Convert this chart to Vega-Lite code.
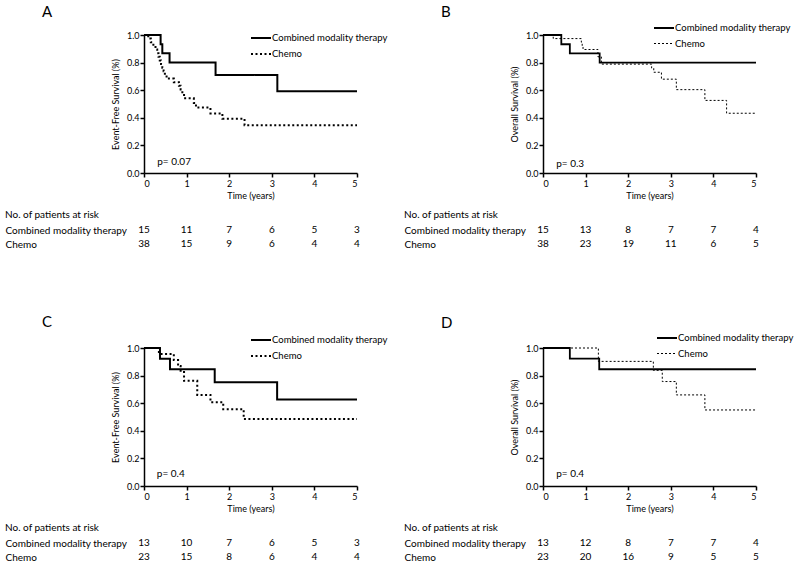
{
  "$schema": "https://vega.github.io/schema/vega-lite/v6.json",
  "padding": {"left": 5, "top": 5, "right": 5, "bottom": 5},
  "background": "white",
  "config": {
    "font": "Lato",
    "view": {"stroke": null},
    "axis": {"domainColor": "black", "tickColor": "black", "labelColor": "black", "titleColor": "black", "labelFontSize": 9, "titleFontSize": 9, "titleFontWeight": "normal", "grid": false, "tickSize": 4, "domainWidth": 1.5, "tickWidth": 1.5, "labelOverlap": false},
    "axisY": {"labelOverlap": false, "labelSeparation": 0},
    "legend": {"orient": "none", "title": null, "labelFontSize": 9.5, "symbolType": "stroke", "symbolSize": 400, "rowPadding": -12, "labelOffset": 0, "symbolStrokeColor": "black", "labelColor": "black"},
    "title": {"fontWeight": "normal", "color": "black"},
    "text": {"color": "black"}
  },
  "resolve": {"scale": {"strokeDash": "independent", "strokeWidth": "independent"}, "legend": {"strokeDash": "independent", "strokeWidth": "independent"}},
  "datasets": {
    "km": [
      {"panel": "A", "group": "Combined modality therapy", "t": 0, "s": 1},
      {"panel": "A", "group": "Combined modality therapy", "t": 0.39, "s": 0.933},
      {"panel": "A", "group": "Combined modality therapy", "t": 0.43, "s": 0.867},
      {"panel": "A", "group": "Combined modality therapy", "t": 0.6, "s": 0.8},
      {"panel": "A", "group": "Combined modality therapy", "t": 1.68, "s": 0.711},
      {"panel": "A", "group": "Combined modality therapy", "t": 3.13, "s": 0.593},
      {"panel": "A", "group": "Combined modality therapy", "t": 5, "s": 0.593},
      {"panel": "A", "group": "Chemo", "t": 0, "s": 1},
      {"panel": "A", "group": "Chemo", "t": 0.1, "s": 0.974},
      {"panel": "A", "group": "Chemo", "t": 0.16, "s": 0.947},
      {"panel": "A", "group": "Chemo", "t": 0.22, "s": 0.921},
      {"panel": "A", "group": "Chemo", "t": 0.27, "s": 0.895},
      {"panel": "A", "group": "Chemo", "t": 0.31, "s": 0.868},
      {"panel": "A", "group": "Chemo", "t": 0.34, "s": 0.842},
      {"panel": "A", "group": "Chemo", "t": 0.37, "s": 0.816},
      {"panel": "A", "group": "Chemo", "t": 0.4, "s": 0.789},
      {"panel": "A", "group": "Chemo", "t": 0.43, "s": 0.763},
      {"panel": "A", "group": "Chemo", "t": 0.46, "s": 0.737},
      {"panel": "A", "group": "Chemo", "t": 0.49, "s": 0.711},
      {"panel": "A", "group": "Chemo", "t": 0.53, "s": 0.684},
      {"panel": "A", "group": "Chemo", "t": 0.7, "s": 0.658},
      {"panel": "A", "group": "Chemo", "t": 0.82, "s": 0.632},
      {"panel": "A", "group": "Chemo", "t": 0.86, "s": 0.605},
      {"panel": "A", "group": "Chemo", "t": 0.9, "s": 0.573},
      {"panel": "A", "group": "Chemo", "t": 0.94, "s": 0.541},
      {"panel": "A", "group": "Chemo", "t": 1.17, "s": 0.508},
      {"panel": "A", "group": "Chemo", "t": 1.22, "s": 0.474},
      {"panel": "A", "group": "Chemo", "t": 1.56, "s": 0.432},
      {"panel": "A", "group": "Chemo", "t": 1.84, "s": 0.394},
      {"panel": "A", "group": "Chemo", "t": 2.36, "s": 0.346},
      {"panel": "A", "group": "Chemo", "t": 5, "s": 0.346},
      {"panel": "B", "group": "Combined modality therapy", "t": 0, "s": 1},
      {"panel": "B", "group": "Combined modality therapy", "t": 0.43, "s": 0.933},
      {"panel": "B", "group": "Combined modality therapy", "t": 0.63, "s": 0.867},
      {"panel": "B", "group": "Combined modality therapy", "t": 1.33, "s": 0.8},
      {"panel": "B", "group": "Combined modality therapy", "t": 5, "s": 0.8},
      {"panel": "B", "group": "Chemo", "t": 0, "s": 1},
      {"panel": "B", "group": "Chemo", "t": 0.24, "s": 0.974},
      {"panel": "B", "group": "Chemo", "t": 0.9, "s": 0.947},
      {"panel": "B", "group": "Chemo", "t": 0.92, "s": 0.921},
      {"panel": "B", "group": "Chemo", "t": 0.94, "s": 0.895},
      {"panel": "B", "group": "Chemo", "t": 1.29, "s": 0.842},
      {"panel": "B", "group": "Chemo", "t": 1.37, "s": 0.789},
      {"panel": "B", "group": "Chemo", "t": 2.55, "s": 0.76},
      {"panel": "B", "group": "Chemo", "t": 2.6, "s": 0.73},
      {"panel": "B", "group": "Chemo", "t": 2.78, "s": 0.68},
      {"panel": "B", "group": "Chemo", "t": 3.13, "s": 0.604},
      {"panel": "B", "group": "Chemo", "t": 3.8, "s": 0.526},
      {"panel": "B", "group": "Chemo", "t": 4.31, "s": 0.433},
      {"panel": "B", "group": "Chemo", "t": 5, "s": 0.433},
      {"panel": "C", "group": "Combined modality therapy", "t": 0, "s": 1},
      {"panel": "C", "group": "Combined modality therapy", "t": 0.375, "s": 0.923},
      {"panel": "C", "group": "Combined modality therapy", "t": 0.61, "s": 0.846},
      {"panel": "C", "group": "Combined modality therapy", "t": 1.66, "s": 0.752},
      {"panel": "C", "group": "Combined modality therapy", "t": 3.125, "s": 0.627},
      {"panel": "C", "group": "Combined modality therapy", "t": 5, "s": 0.627},
      {"panel": "C", "group": "Chemo", "t": 0, "s": 1},
      {"panel": "C", "group": "Chemo", "t": 0.35, "s": 0.957},
      {"panel": "C", "group": "Chemo", "t": 0.7, "s": 0.913},
      {"panel": "C", "group": "Chemo", "t": 0.8, "s": 0.869},
      {"panel": "C", "group": "Chemo", "t": 0.86, "s": 0.826},
      {"panel": "C", "group": "Chemo", "t": 0.94, "s": 0.762},
      {"panel": "C", "group": "Chemo", "t": 1.25, "s": 0.66},
      {"panel": "C", "group": "Chemo", "t": 1.56, "s": 0.607},
      {"panel": "C", "group": "Chemo", "t": 1.86, "s": 0.556},
      {"panel": "C", "group": "Chemo", "t": 2.34, "s": 0.485},
      {"panel": "C", "group": "Chemo", "t": 5, "s": 0.485},
      {"panel": "D", "group": "Combined modality therapy", "t": 0, "s": 1},
      {"panel": "D", "group": "Combined modality therapy", "t": 0.63, "s": 0.923},
      {"panel": "D", "group": "Combined modality therapy", "t": 1.32, "s": 0.846},
      {"panel": "D", "group": "Combined modality therapy", "t": 5, "s": 0.846},
      {"panel": "D", "group": "Chemo", "t": 0, "s": 1},
      {"panel": "D", "group": "Chemo", "t": 1.3, "s": 0.903},
      {"panel": "D", "group": "Chemo", "t": 2.59, "s": 0.838},
      {"panel": "D", "group": "Chemo", "t": 2.8, "s": 0.757},
      {"panel": "D", "group": "Chemo", "t": 3.13, "s": 0.66},
      {"panel": "D", "group": "Chemo", "t": 3.8, "s": 0.551},
      {"panel": "D", "group": "Chemo", "t": 5, "s": 0.551}
    ],
    "risk": [
      {"panel": "A", "group": "Combined modality therapy", "t": 0, "n": 15},
      {"panel": "A", "group": "Combined modality therapy", "t": 1, "n": 11},
      {"panel": "A", "group": "Combined modality therapy", "t": 2, "n": 7},
      {"panel": "A", "group": "Combined modality therapy", "t": 3, "n": 6},
      {"panel": "A", "group": "Combined modality therapy", "t": 4, "n": 5},
      {"panel": "A", "group": "Combined modality therapy", "t": 5, "n": 3},
      {"panel": "A", "group": "Chemo", "t": 0, "n": 38},
      {"panel": "A", "group": "Chemo", "t": 1, "n": 15},
      {"panel": "A", "group": "Chemo", "t": 2, "n": 9},
      {"panel": "A", "group": "Chemo", "t": 3, "n": 6},
      {"panel": "A", "group": "Chemo", "t": 4, "n": 4},
      {"panel": "A", "group": "Chemo", "t": 5, "n": 4},
      {"panel": "B", "group": "Combined modality therapy", "t": 0, "n": 15},
      {"panel": "B", "group": "Combined modality therapy", "t": 1, "n": 13},
      {"panel": "B", "group": "Combined modality therapy", "t": 2, "n": 8},
      {"panel": "B", "group": "Combined modality therapy", "t": 3, "n": 7},
      {"panel": "B", "group": "Combined modality therapy", "t": 4, "n": 7},
      {"panel": "B", "group": "Combined modality therapy", "t": 5, "n": 4},
      {"panel": "B", "group": "Chemo", "t": 0, "n": 38},
      {"panel": "B", "group": "Chemo", "t": 1, "n": 23},
      {"panel": "B", "group": "Chemo", "t": 2, "n": 19},
      {"panel": "B", "group": "Chemo", "t": 3, "n": 11},
      {"panel": "B", "group": "Chemo", "t": 4, "n": 6},
      {"panel": "B", "group": "Chemo", "t": 5, "n": 5},
      {"panel": "C", "group": "Combined modality therapy", "t": 0, "n": 13},
      {"panel": "C", "group": "Combined modality therapy", "t": 1, "n": 10},
      {"panel": "C", "group": "Combined modality therapy", "t": 2, "n": 7},
      {"panel": "C", "group": "Combined modality therapy", "t": 3, "n": 6},
      {"panel": "C", "group": "Combined modality therapy", "t": 4, "n": 5},
      {"panel": "C", "group": "Combined modality therapy", "t": 5, "n": 3},
      {"panel": "C", "group": "Chemo", "t": 0, "n": 23},
      {"panel": "C", "group": "Chemo", "t": 1, "n": 15},
      {"panel": "C", "group": "Chemo", "t": 2, "n": 8},
      {"panel": "C", "group": "Chemo", "t": 3, "n": 6},
      {"panel": "C", "group": "Chemo", "t": 4, "n": 4},
      {"panel": "C", "group": "Chemo", "t": 5, "n": 4},
      {"panel": "D", "group": "Combined modality therapy", "t": 0, "n": 13},
      {"panel": "D", "group": "Combined modality therapy", "t": 1, "n": 12},
      {"panel": "D", "group": "Combined modality therapy", "t": 2, "n": 8},
      {"panel": "D", "group": "Combined modality therapy", "t": 3, "n": 7},
      {"panel": "D", "group": "Combined modality therapy", "t": 4, "n": 7},
      {"panel": "D", "group": "Combined modality therapy", "t": 5, "n": 4},
      {"panel": "D", "group": "Chemo", "t": 0, "n": 23},
      {"panel": "D", "group": "Chemo", "t": 1, "n": 20},
      {"panel": "D", "group": "Chemo", "t": 2, "n": 16},
      {"panel": "D", "group": "Chemo", "t": 3, "n": 9},
      {"panel": "D", "group": "Chemo", "t": 4, "n": 5},
      {"panel": "D", "group": "Chemo", "t": 5, "n": 5}
    ],
    "pvals": [
      {"panel": "A", "label": "p= 0.07"},
      {"panel": "B", "label": "p= 0.3"},
      {"panel": "C", "label": "p= 0.4"},
      {"panel": "D", "label": "p= 0.4"}
    ]
  },
  "columns": 2,
  "spacing": {"row": 10, "column": 16},
  "concat": [
    {
      "title": {"text": "A", "anchor": "start", "frame": "group", "dx": -102, "fontSize": 15, "offset": 7},
      "width": 213, "height": 138,
      "layer": [
        {
          "data": {"name": "km"}, "transform": [{"filter": "datum.panel === 'A'"}],
          "mark": {"type": "line", "interpolate": "step-after", "color": "black"},
          "encoding": {
            "x": {"field": "t", "type": "quantitative", "scale": {"domain": [0, 5], "nice": false}, "axis": {"title": "Time (years)", "values": [0, 1, 2, 3, 4, 5], "labelPadding": 2, "titlePadding": 3}},
            "y": {"field": "s", "type": "quantitative", "scale": {"domain": [0, 1]}, "axis": {"title": "Event-Free Survival (%)", "values": [0, 0.2, 0.4, 0.6, 0.8, 1], "format": ".1f", "labelPadding": 1, "titlePadding": 6, "labelOverlap": false}},
            "strokeDash": {"field": "group", "type": "nominal", "scale": {"domain": ["Combined modality therapy", "Chemo"], "range": [[1, 0], [2, 2.5]]}, "legend": {"legendX": 106, "legendY": -8}},
            "strokeWidth": {"field": "group", "type": "ordinal", "scale": {"domain": ["Combined modality therapy", "Chemo"], "range": [2, 2]}, "legend": {"legendX": 106, "legendY": -8}}
          }
        },
        {"data": {"name": "pvals"}, "transform": [{"filter": "datum.panel === 'A'"}], "mark": {"type": "text", "align": "left", "fontSize": 10}, "encoding": {"x": {"datum": 0.31, "type": "quantitative", "axis": {"title": "Time (years)", "values": [0, 1, 2, 3, 4, 5], "labelPadding": 2, "titlePadding": 3}}, "y": {"datum": 0.077, "type": "quantitative", "axis": {"title": "Event-Free Survival (%)", "values": [0, 0.2, 0.4, 0.6, 0.8, 1], "format": ".1f", "labelPadding": 1, "titlePadding": 6, "labelOverlap": false}}, "text": {"field": "label", "type": "nominal"}}}
      ]
    },
    {
      "title": {"text": "B", "anchor": "start", "frame": "group", "dx": -102, "fontSize": 15, "offset": -3},
      "width": 213, "height": 138,
      "layer": [
        {
          "data": {"name": "km"}, "transform": [{"filter": "datum.panel === 'B'"}],
          "mark": {"type": "line", "interpolate": "step-after", "color": "black"},
          "encoding": {
            "x": {"field": "t", "type": "quantitative", "scale": {"domain": [0, 5], "nice": false}, "axis": {"title": "Time (years)", "values": [0, 1, 2, 3, 4, 5], "labelPadding": 2, "titlePadding": 3}},
            "y": {"field": "s", "type": "quantitative", "scale": {"domain": [0, 1]}, "axis": {"title": "Overall Survival (%)", "values": [0, 0.2, 0.4, 0.6, 0.8, 1], "format": ".1f", "labelPadding": 1, "titlePadding": 6, "labelOverlap": false}},
            "strokeDash": {"field": "group", "type": "nominal", "scale": {"domain": ["Combined modality therapy", "Chemo"], "range": [[1, 0], [2, 2]]}, "legend": {"legendX": 110, "legendY": -18}},
            "strokeWidth": {"field": "group", "type": "ordinal", "scale": {"domain": ["Combined modality therapy", "Chemo"], "range": [1.8, 1]}, "legend": {"legendX": 110, "legendY": -18}}
          }
        },
        {"data": {"name": "pvals"}, "transform": [{"filter": "datum.panel === 'B'"}], "mark": {"type": "text", "align": "left", "fontSize": 10}, "encoding": {"x": {"datum": 0.31, "type": "quantitative", "axis": {"title": "Time (years)", "values": [0, 1, 2, 3, 4, 5], "labelPadding": 2, "titlePadding": 3}}, "y": {"datum": 0.066, "type": "quantitative", "axis": {"title": "Overall Survival (%)", "values": [0, 0.2, 0.4, 0.6, 0.8, 1], "format": ".1f", "labelPadding": 1, "titlePadding": 6, "labelOverlap": false}}, "text": {"field": "label", "type": "nominal"}}}
      ]
    },
    {
      "title": {"text": "No. of patients at risk", "anchor": "start", "frame": "bounds", "fontSize": 10, "offset": 3},
      "width": 213, "height": 82,
      "data": {"name": "risk"}, "transform": [{"filter": "datum.panel === 'A'"}],
      "mark": {"type": "text", "fontSize": 10},
      "encoding": {
        "x": {"field": "t", "type": "quantitative", "scale": {"domain": [0, 5], "nice": false}, "axis": null},
        "y": {"field": "group", "type": "nominal", "scale": {"domain": ["Combined modality therapy", "Chemo"], "range": [7, 21], "padding": 0}, "axis": {"title": null, "domain": false, "ticks": false, "tickSize": 0, "labelAlign": "left", "labelPadding": 139, "labelFontSize": 10}},
        "text": {"field": "n", "type": "quantitative"}
      }
    },
    {
      "title": {"text": "No. of patients at risk", "anchor": "start", "frame": "bounds", "fontSize": 10, "offset": 3},
      "width": 213, "height": 82,
      "data": {"name": "risk"}, "transform": [{"filter": "datum.panel === 'B'"}],
      "mark": {"type": "text", "fontSize": 10},
      "encoding": {
        "x": {"field": "t", "type": "quantitative", "scale": {"domain": [0, 5], "nice": false}, "axis": null},
        "y": {"field": "group", "type": "nominal", "scale": {"domain": ["Combined modality therapy", "Chemo"], "range": [7, 21], "padding": 0}, "axis": {"title": null, "domain": false, "ticks": false, "tickSize": 0, "labelAlign": "left", "labelPadding": 139, "labelFontSize": 10}},
        "text": {"field": "n", "type": "quantitative"}
      }
    },
    {
      "title": {"text": "C", "anchor": "start", "frame": "group", "dx": -102, "fontSize": 15, "offset": -1},
      "width": 213, "height": 138,
      "layer": [
        {
          "data": {"name": "km"}, "transform": [{"filter": "datum.panel === 'C'"}],
          "mark": {"type": "line", "interpolate": "step-after", "color": "black"},
          "encoding": {
            "x": {"field": "t", "type": "quantitative", "scale": {"domain": [0, 5], "nice": false}, "axis": {"title": "Time (years)", "values": [0, 1, 2, 3, 4, 5], "labelPadding": 2, "titlePadding": 3}},
            "y": {"field": "s", "type": "quantitative", "scale": {"domain": [0, 1]}, "axis": {"title": "Event-Free Survival (%)", "values": [0, 0.2, 0.4, 0.6, 0.8, 1], "format": ".1f", "labelPadding": 1, "titlePadding": 6, "labelOverlap": false}},
            "strokeDash": {"field": "group", "type": "nominal", "scale": {"domain": ["Combined modality therapy", "Chemo"], "range": [[1, 0], [2, 2.5]]}, "legend": {"legendX": 106, "legendY": -19}},
            "strokeWidth": {"field": "group", "type": "ordinal", "scale": {"domain": ["Combined modality therapy", "Chemo"], "range": [2, 2]}, "legend": {"legendX": 106, "legendY": -19}}
          }
        },
        {"data": {"name": "pvals"}, "transform": [{"filter": "datum.panel === 'C'"}], "mark": {"type": "text", "align": "left", "fontSize": 10}, "encoding": {"x": {"datum": 0.3, "type": "quantitative", "axis": {"title": "Time (years)", "values": [0, 1, 2, 3, 4, 5], "labelPadding": 2, "titlePadding": 3}}, "y": {"datum": 0.09, "type": "quantitative", "axis": {"title": "Event-Free Survival (%)", "values": [0, 0.2, 0.4, 0.6, 0.8, 1], "format": ".1f", "labelPadding": 1, "titlePadding": 6, "labelOverlap": false}}, "text": {"field": "label", "type": "nominal"}}}
      ]
    },
    {
      "title": {"text": "D", "anchor": "start", "frame": "group", "dx": -102, "fontSize": 15, "offset": -4},
      "width": 213, "height": 138,
      "layer": [
        {
          "data": {"name": "km"}, "transform": [{"filter": "datum.panel === 'D'"}],
          "mark": {"type": "line", "interpolate": "step-after", "color": "black"},
          "encoding": {
            "x": {"field": "t", "type": "quantitative", "scale": {"domain": [0, 5], "nice": false}, "axis": {"title": "Time (years)", "values": [0, 1, 2, 3, 4, 5], "labelPadding": 2, "titlePadding": 3}},
            "y": {"field": "s", "type": "quantitative", "scale": {"domain": [0, 1]}, "axis": {"title": "Overall Survival (%)", "values": [0, 0.2, 0.4, 0.6, 0.8, 1], "format": ".1f", "labelPadding": 1, "titlePadding": 6, "labelOverlap": false}},
            "strokeDash": {"field": "group", "type": "nominal", "scale": {"domain": ["Combined modality therapy", "Chemo"], "range": [[1, 0], [2, 2]]}, "legend": {"legendX": 113, "legendY": -21}},
            "strokeWidth": {"field": "group", "type": "ordinal", "scale": {"domain": ["Combined modality therapy", "Chemo"], "range": [1.8, 1]}, "legend": {"legendX": 113, "legendY": -21}}
          }
        },
        {"data": {"name": "pvals"}, "transform": [{"filter": "datum.panel === 'D'"}], "mark": {"type": "text", "align": "left", "fontSize": 10}, "encoding": {"x": {"datum": 0.31, "type": "quantitative", "axis": {"title": "Time (years)", "values": [0, 1, 2, 3, 4, 5], "labelPadding": 2, "titlePadding": 3}}, "y": {"datum": 0.09, "type": "quantitative", "axis": {"title": "Overall Survival (%)", "values": [0, 0.2, 0.4, 0.6, 0.8, 1], "format": ".1f", "labelPadding": 1, "titlePadding": 6, "labelOverlap": false}}, "text": {"field": "label", "type": "nominal"}}}
      ]
    },
    {
      "title": {"text": "No. of patients at risk", "anchor": "start", "frame": "bounds", "fontSize": 10, "offset": 3},
      "width": 213, "height": 28,
      "data": {"name": "risk"}, "transform": [{"filter": "datum.panel === 'C'"}],
      "mark": {"type": "text", "fontSize": 10},
      "encoding": {
        "x": {"field": "t", "type": "quantitative", "scale": {"domain": [0, 5], "nice": false}, "axis": null},
        "y": {"field": "group", "type": "nominal", "scale": {"domain": ["Combined modality therapy", "Chemo"], "range": [7, 21], "padding": 0}, "axis": {"title": null, "domain": false, "ticks": false, "tickSize": 0, "labelAlign": "left", "labelPadding": 139, "labelFontSize": 10}},
        "text": {"field": "n", "type": "quantitative"}
      }
    },
    {
      "title": {"text": "No. of patients at risk", "anchor": "start", "frame": "bounds", "fontSize": 10, "offset": 3},
      "width": 213, "height": 28,
      "data": {"name": "risk"}, "transform": [{"filter": "datum.panel === 'D'"}],
      "mark": {"type": "text", "fontSize": 10},
      "encoding": {
        "x": {"field": "t", "type": "quantitative", "scale": {"domain": [0, 5], "nice": false}, "axis": null},
        "y": {"field": "group", "type": "nominal", "scale": {"domain": ["Combined modality therapy", "Chemo"], "range": [7, 21], "padding": 0}, "axis": {"title": null, "domain": false, "ticks": false, "tickSize": 0, "labelAlign": "left", "labelPadding": 139, "labelFontSize": 10}},
        "text": {"field": "n", "type": "quantitative"}
      }
    }
  ]
}
